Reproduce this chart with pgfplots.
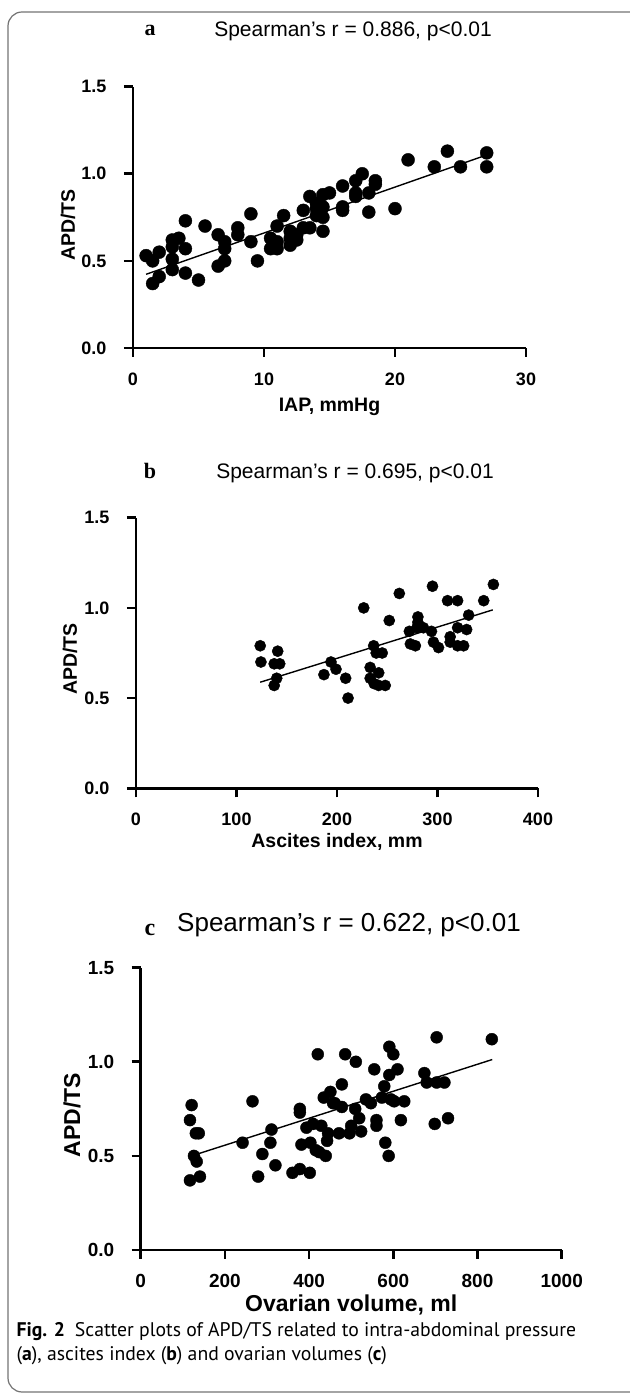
\documentclass[border=0pt]{standalone}
\usepackage{fontspec}
\setmainfont{Liberation Sans}
\newfontfamily\serifletter{Liberation Serif}
\newfontfamily\capfont{PT Sans}
\usepackage{pgfplots}
\pgfplotsset{compat=1.18}

\pgfplotsset{
  prism/.style={
    scale only axis,
    axis x line*=bottom, axis y line*=left,
    axis line style={line width=2.6pt,-},
    every tick/.style={line width=2.6pt, black},
    major tick length=9pt,
    tick align=outside,
    clip=false,
    ymin=0, ymax=1.5,
    ytick={0,0.5,1.0,1.5},
    yticklabels={0.0,0.5,1.0,1.5},
    /pgf/number format/assume math mode=true,
    /pgf/number format/1000 sep={},
    tick label style={font=\fontsize{18}{18}\selectfont\bfseries},
    xticklabel style={yshift=-12pt},
    yticklabel style={xshift=-14pt},
    label style={font=\fontsize{19.5}{20}\selectfont\bfseries},
  },
  dots/.style={only marks, mark=*, mark options={fill=black, draw=black}},
  fit/.style={black, line width=1.4pt, no markers},
}

\begin{document}
\begin{tikzpicture}[x=1pt,y=1pt]
\useasboundingbox (0,0) rectangle (629,1397);
\draw[black!55, line width=1.2pt, rounded corners=14pt] (8,5) rectangle (660,1385);

% panel a
\node[font=\serifletter\bfseries\fontsize{22}{22}\selectfont] at (150,1367) {a};
\node[font=\fontsize{21}{21}\selectfont, anchor=base] at (353,1360) {Spearman’s r = 0.886, p<0.01};
\node[rotate=90, font=\fontsize{19.5}{20}\selectfont\bfseries] at (68,1172) {APD/TS};
\begin{axis}[prism, at={(133pt,1310.3pt)}, anchor=north west,
  width=393pt, height=261.3pt,
  xmin=0, xmax=30, xtick={0,10,20,30},
  xlabel style={at={(axis description cs:0.5,-0.225)}, anchor=center},
  xlabel={IAP, mmHg}]
\addplot[dots, mark size=6.5pt] coordinates {
(1.0,0.53)(1.5,0.50)(2.0,0.55)(1.5,0.37)(2.0,0.41)(3.0,0.62)(3.5,0.63)
(3.0,0.58)(3.0,0.51)(3.0,0.45)(4.0,0.73)(4.0,0.57)(4.0,0.43)(5.0,0.39)
(5.5,0.70)(6.5,0.65)(7.0,0.61)(7.0,0.57)(7.0,0.50)(6.5,0.47)(8.0,0.69)
(8.0,0.65)(9.0,0.77)(9.0,0.61)(9.5,0.50)(10.5,0.63)(10.5,0.57)(11.0,0.61)
(11.0,0.57)(11.0,0.70)(11.5,0.76)(12.0,0.67)(12.0,0.63)(12.0,0.59)(12.5,0.65)
(12.5,0.62)(13.0,0.79)(13.0,0.69)(13.5,0.87)(13.5,0.69)(14.0,0.83)(14.0,0.80)
(14.0,0.76)(14.5,0.88)(14.5,0.81)(14.5,0.75)(14.5,0.67)(15.0,0.89)(16.0,0.93)
(16.0,0.81)(16.0,0.79)(17.0,0.96)(17.0,0.89)(17.0,0.87)(17.5,1.00)(18.0,0.89)
(18.0,0.78)(18.5,0.96)(18.5,0.94)(20.0,0.80)(21.0,1.08)(23.0,1.04)(24.0,1.13)
(25.0,1.04)(27.0,1.12)(27.0,1.04)
};
\addplot[fit] coordinates {(1.0,0.423)(27.0,1.108)};
\end{axis}

% panel b
\node[font=\serifletter\bfseries\fontsize{22}{22}\selectfont] at (150,926) {b};
\node[font=\fontsize{21}{21}\selectfont, anchor=base] at (355,918) {Spearman’s r = 0.695, p<0.01};
\node[rotate=90, font=\fontsize{19.5}{20}\selectfont\bfseries] at (70,738) {APD/TS};
\begin{axis}[prism, at={(136pt,879.3pt)}, anchor=north west,
  width=402pt, height=270.6pt,
  xmin=0, xmax=400, xtick={0,100,200,300,400},
  xlabel style={at={(axis description cs:0.5,-0.2)}, anchor=center},
  xlabel={Ascites index, mm}]
\addplot[dots, mark size=5.6pt] coordinates {
(123.6,0.79)(124.3,0.70)(141,0.76)(137.5,0.69)(143,0.69)(140,0.61)(137.5,0.57)
(187,0.63)(194,0.70)(199,0.66)(208.6,0.61)(211,0.50)(226.6,1.00)(236.5,0.79)
(239,0.75)(245,0.75)(233,0.67)(241.5,0.64)(233,0.61)(237,0.58)(241.5,0.57)
(248,0.57)(252,0.93)(262,1.08)(272,0.87)(273,0.80)(278,0.79)(280.5,0.95)
(280.5,0.92)(279.5,0.89)(286,0.89)(294,0.87)(295,1.12)(296,0.81)(301,0.78)
(310,1.04)(320,1.04)(312.6,0.84)(312.6,0.81)(320,0.89)(320,0.79)(326,0.79)
(329,0.88)(331,0.96)(346,1.04)(355.6,1.13)
};
\addplot[fit] coordinates {(123.6,0.588)(355,0.989)};
\end{axis}

% panel c
\node[font=\serifletter\bfseries\fontsize{24}{24}\selectfont] at (150,467) {c};
\node[font=\fontsize{26}{26}\selectfont, anchor=base] at (349,465) {Spearman’s r = 0.622, p<0.01};
\node[rotate=90, font=\fontsize{23}{23}\selectfont\bfseries] at (72,282) {APD/TS};
\begin{axis}[prism, at={(140.7pt,429.3pt)}, anchor=north west,
  width=421pt, height=282.3pt,
  xmin=0, xmax=1000, xtick={0,200,400,600,800,1000},
  tick label style={font=\fontsize{19}{19}\selectfont\bfseries},
  label style={font=\fontsize{23}{23}\selectfont\bfseries},
  xlabel style={at={(axis description cs:0.5,-0.195)}, anchor=center},
  xlabel={Ovarian volume, ml}]
\addplot[dots, mark size=6pt] coordinates {
(121,0.77)(117,0.69)(131,0.62)(138,0.62)(126.5,0.50)(133,0.47)(117,0.37)
(140.7,0.39)(242,0.57)(265.6,0.79)(279,0.39)(289,0.51)(308,0.57)(310.7,0.64)
(320,0.45)(360.5,0.41)(378,0.43)(401.6,0.41)(378,0.75)(378,0.73)(381.8,0.56)
(393.7,0.65)(403,0.57)(409.5,0.67)(415.8,0.53)(420.6,1.04)(434.8,0.81)(450.6,0.84)
(460.8,0.78)(429,0.66)(445,0.62)(442.7,0.58)(439.5,0.50)(471,0.62)(485.7,1.04)
(511,1.00)(554.8,0.96)(590.5,1.08)(600,1.04)(610,0.96)(590.5,0.93)(578.6,0.87)
(477.8,0.88)(457,0.78)(477.8,0.76)(509.5,0.75)(519,0.70)(535,0.80)(546.8,0.78)
(573,0.81)(594.4,0.80)(602,0.79)(626,0.79)(560,0.69)(560,0.66)(618,0.69)
(581,0.57)(589,0.50)(673.8,0.94)(679.4,0.89)(703,0.89)(721.4,0.89)(703,1.13)
(834,1.12)(698.4,0.67)(730,0.70)(496,0.62)(500,0.66)(523.6,0.63)(424,0.52)
};
\addplot[fit] coordinates {(139,0.513)(835,1.012)};
\end{axis}

% caption
\node[anchor=base west, font=\capfont\fontsize{19.7}{20}\selectfont] at (13,60) {\textbf{Fig. 2}\enspace Scatter plots of APD/TS related to intra-abdominal pressure};
\node[anchor=base west, font=\capfont\fontsize{19.7}{20}\selectfont] at (13,36) {(\textbf{a}), ascites index (\textbf{b}) and ovarian volumes (\textbf{c})};
\end{tikzpicture}
\end{document}
